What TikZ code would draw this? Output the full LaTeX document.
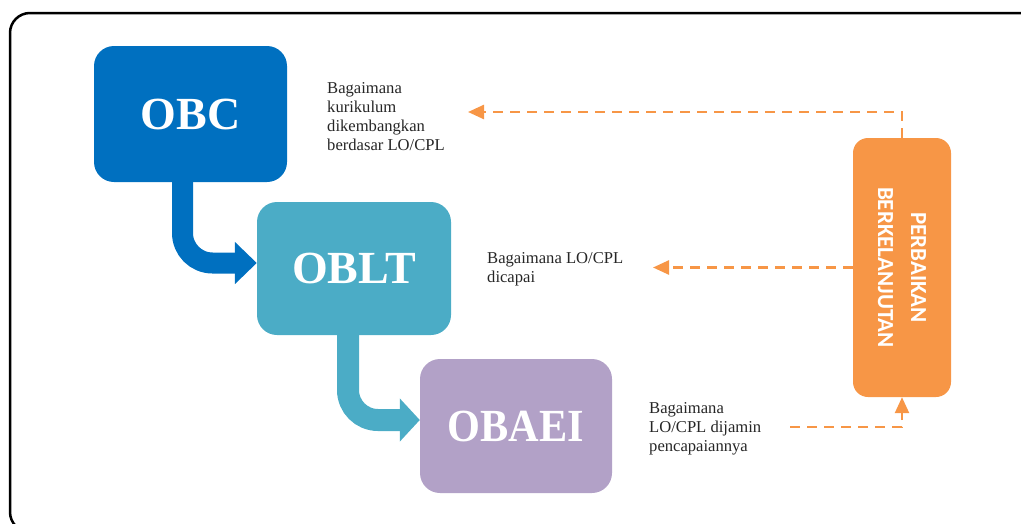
\documentclass[tikz,border=0pt]{standalone}
\usepackage{fontspec}
\setmainfont{Liberation Serif}
\newfontfamily\carlito{Carlito}
\usetikzlibrary{arrows.meta,backgrounds,calc}
\definecolor{obcblue}{HTML}{0070C0}
\definecolor{obltteal}{HTML}{4BACC6}
\definecolor{obaeipurple}{HTML}{B2A1C7}
\definecolor{pkorange}{HTML}{F79646}
\definecolor{desctext}{HTML}{262626}
\begin{document}
\begin{tikzpicture}[x=1pt,y=-1pt,
  titlebox/.style={rounded corners=20pt, inner sep=0pt, text=white,
    font=\fontsize{46}{50}\selectfont\bfseries},
  pkbox/.style={rounded corners=15pt, fill=pkorange, inner sep=0pt,
    minimum width=98pt, minimum height=259pt},
  pklabel/.style={rotate=-90, text=white, align=center, inner sep=0pt,
    font=\fontsize{23}{33}\selectfont\carlito\bfseries},
  desc/.style={anchor=north west, inner sep=0pt, align=left,
    text=desctext, font=\fontsize{16.6}{19}\selectfont},
  flowA/.style={line width=21pt, rounded corners=30pt,
    -{Triangle[width=41pt,length=22pt]}},
  flowB/.style={line width=22pt, rounded corners=30pt,
    -{Triangle[width=42pt,length=20pt]}},
  fb/.style={draw=pkorange, line width=2.5pt, dash pattern=on 10pt off 7pt,
    -{Triangle[width=14pt,length=16pt,fill=pkorange]}},
  frame/.style={line width=2.5pt, rounded corners=20pt}]
\useasboundingbox (0,0) rectangle (1021,523);
\draw[frame] (10,13) rectangle (1040,532);

\node[titlebox, fill=obcblue, minimum width=193pt, minimum height=136pt] (obc) at (190.5,114) {OBC};
\node[titlebox, fill=obltteal, minimum width=194pt, minimum height=133pt] (oblt) at (354,268.5) {OBLT};
\node[titlebox, fill=obaeipurple, minimum width=192pt, minimum height=134pt] (obaei) at (516,426) {\scalebox{0.92}[1]{OBAEI}};
\node[pkbox] (pk) at (902,267.5) {};
\node[pklabel] (pktext) at (pk.center) {PERBAIKAN\\BERKELANJUTAN};

\begin{scope}[on background layer]
\draw[flowA, obcblue] ([xshift=-8pt]obc.center) |- ([yshift=5.5pt]oblt.west);
\draw[flowB, obltteal] ([xshift=-6pt]oblt.center) |- ([yshift=6pt]obaei.west);
\end{scope}

\node[desc] (d1) at (327,82.5) {Bagaimana\\kurikulum\\dikembangkan\\berdasar LO/CPL};
\node[desc] (d2) at (487,252.5) {Bagaimana LO/CPL\\dicapai};
\node[desc] (d3) at (649,402.5) {Bagaimana\\LO/CPL dijamin\\pencapaiannya};

\coordinate (t1) at (468,112);
\coordinate (t2) at (653,267.5);
\coordinate (s3) at (790,427);
\draw[fb] (pk.north) |- (t1);
\draw[fb] (pk.west) -- (t2);
\draw[fb] (s3) -| (pk.south);
\end{tikzpicture}
\end{document}
